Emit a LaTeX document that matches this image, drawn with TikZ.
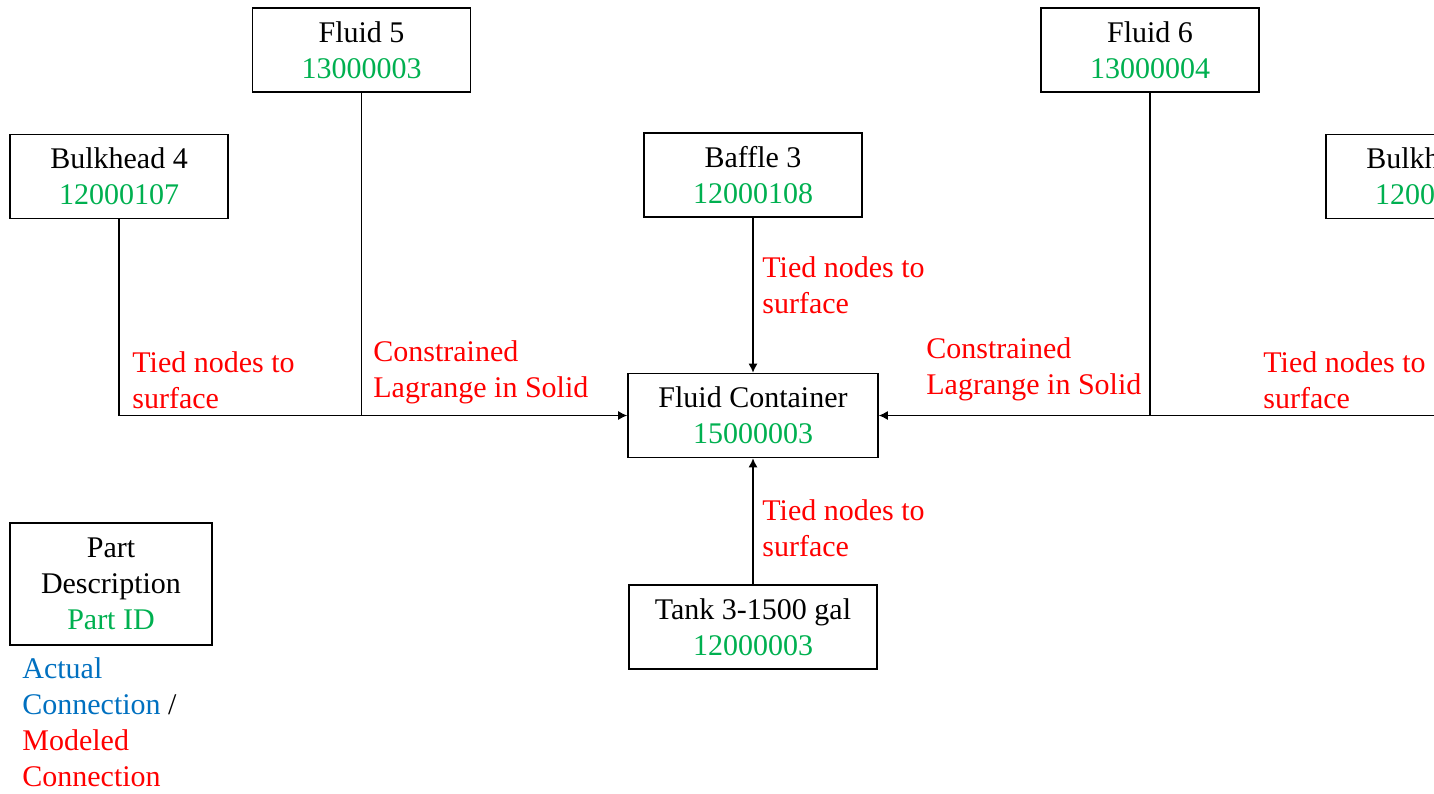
\documentclass[tikz,border=0pt]{standalone}
\usepackage{fontspec}
\setmainfont{Liberation Serif}
\usetikzlibrary{arrows.meta,positioning}
\definecolor{idgreen}{RGB}{0,176,80}
\definecolor{actblue}{RGB}{0,112,192}

\begin{document}
\begin{tikzpicture}[x=0.5pt, y=-0.5pt, font=\fontsize{15}{18}\selectfont]
    \tikzstyle{part}=[draw, line width=0.8pt, minimum width=109pt, minimum height=42pt, align=center, inner sep=2pt]
    \tikzstyle{conn}=[red, align=left, inner sep=0pt, anchor=west]
    \tikzstyle{link}=[line width=0.65pt]
    \tikzstyle{tip}=[-{Latex[length=4.5pt,width=4.5pt]}]
    \useasboundingbox (0,0) rectangle (1434,793);
    \clip (0,0) rectangle (1434,793);
    % parts
    \node[part, minimum width=125pt] (fc) at (753,415.5) {Fluid Container\\\textcolor{idgreen}{15000003}};
    \node[part, above=77.5pt of fc] (baf) {Baffle 3\\\textcolor{idgreen}{12000108}};
    \node[part, minimum width=124pt, below=63pt of fc] (tank) {Tank 3-1500 gal\\\textcolor{idgreen}{12000003}};
    \node[part] (bh4) at (119,176.5) {Bulkhead 4\\\textcolor{idgreen}{12000107}};
    \node[part] (bh5) at (1435,176.5) {Bulkhead 5\\\textcolor{idgreen}{12000109}};
    \node[part] (fl5) at (361.5,50) {Fluid 5\\\textcolor{idgreen}{13000003}};
    \node[part] (fl6) at (1150,50) {Fluid 6\\\textcolor{idgreen}{13000004}};
    % connections
    \draw[link, tip] (baf) -- (fc);
    \draw[link, tip] (tank) -- (fc);
    \draw[link, tip] (bh4.south) |- (fc.west);
    \draw[link] (fl5.south) -- (fl5.south |- fc.west);
    \draw[link, tip] (bh5.south) |- (fc.east);
    \draw[link] (fl6.south) -- (fl6.south |- fc.east);
    % modeled connections
    \node[conn] (t1) at (132,380) {Tied nodes to\\surface};
    \node[conn] (c1) at (373,372.5) {Constrained\\Lagrange in Solid};
    \node[conn] (t2) at (762,285.5) {Tied nodes to\\surface};
    \node[conn] (c2) at (926,369.5) {Constrained\\Lagrange in Solid};
    \node[conn] (t3) at (1263,380) {Tied nodes to\\surface};
    \node[conn] (t4) at (762,528) {Tied nodes to\\surface};
    % key
    \node[part, minimum width=101pt, minimum height=61pt] (key) at (111,584) {Part\\Description\\\textcolor{idgreen}{Part ID}};
    \node[align=left, inner sep=0pt, anchor=west] (keytxt) at (22,722) {\textcolor{actblue}{Actual}\\\textcolor{actblue}{Connection} /\\\textcolor{red}{Modeled}\\\textcolor{red}{Connection}};
\end{tikzpicture}
\end{document}
